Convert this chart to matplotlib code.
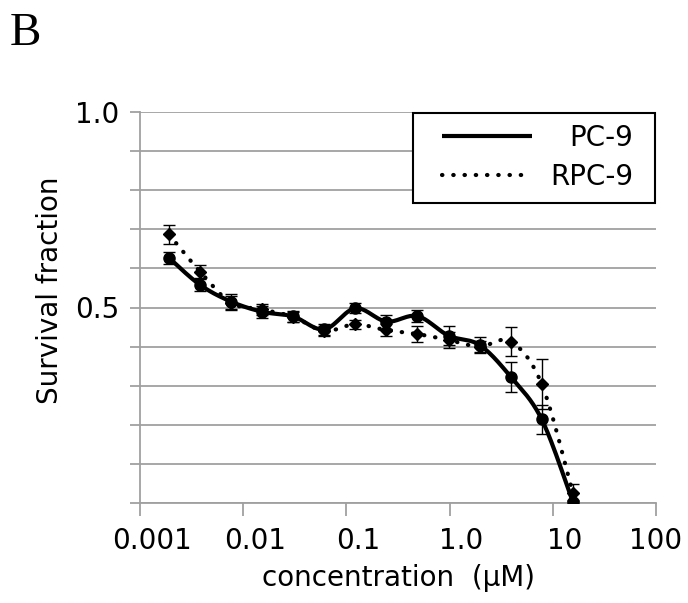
import numpy as np
import matplotlib
matplotlib.use("Agg")
import matplotlib.pyplot as plt
from matplotlib.transforms import ScaledTranslation
from matplotlib.ticker import NullLocator
from matplotlib.patches import Rectangle

# ---------------- data ----------------
concentration = [0.00191, 0.00381, 0.00763, 0.0153, 0.0305, 0.061, 0.122,
                 0.244, 0.488, 0.977, 1.953, 3.906, 7.8125, 15.625]
pc9 = [0.627, 0.558, 0.515, 0.489, 0.477, 0.444, 0.498,
       0.464, 0.478, 0.428, 0.404, 0.323, 0.214, 0.003]
pc9_err = [0.016, 0.015, 0.020, 0.015, 0.013, 0.014, 0.013,
           0.018, 0.015, 0.025, 0.020, 0.038, 0.037, 0.005]
rpc9 = [0.687, 0.592, 0.512, 0.495, 0.476, 0.440, 0.457,
        0.442, 0.432, 0.417, 0.400, 0.413, 0.304, 0.026]
rpc9_err = [0.024, 0.017, 0.018, 0.015, 0.012, 0.012, 0.012,
            0.015, 0.020, 0.020, 0.015, 0.037, 0.064, 0.022]
series_labels = ["PC-9", "RPC-9"]

x_ticks = [0.001, 0.01, 0.1, 1.0, 10, 100]
x_tick_labels = ["0.001", "0.01", "0.1", "1.0", "10", "100"]
y_ticks = [0.0, 0.1, 0.2, 0.3, 0.4, 0.5, 0.6, 0.7, 0.8, 0.9, 1.0]
y_tick_labels = ["", "", "", "", "", "0.5", "", "", "", "", "1.0"]

# ---------------- figure ----------------
plt.rcParams["font.family"] = ["DejaVu Sans"]
FW, FH, DPI = 688, 603, 100
fig = plt.figure(figsize=(FW / DPI, FH / DPI), dpi=DPI)
AX_L, AX_R, AX_T, AX_B = 140, 656, 112, 503
AW, AH = AX_R - AX_L, AX_B - AX_T
ax = fig.add_axes([AX_L / FW, 1 - AX_B / FH, AW / FW, AH / FH])
ax.set_xscale("log")
ax.set_xlim(0.001, 100)
ax.set_ylim(0, 1.0)

px_per_decade = AW / 5.0
px_per_unit = AH / 1.0


def smooth(xs, ys, n=30):
    """Excel-like smoothed line (Catmull-Rom Bezier) in display-proportional space."""
    u = np.log10(np.asarray(xs, float)) * px_per_decade
    v = np.asarray(ys, float) * px_per_unit
    P = np.column_stack([u, v])
    Pp = np.vstack([P[0], P, P[-1]])
    out = [P[0]]
    t = np.linspace(0, 1, n)[1:, None]
    for i in range(len(P) - 1):
        p0, p1, p2, p3 = Pp[i], Pp[i + 1], Pp[i + 2], Pp[i + 3]
        c1 = p1 + (p2 - p0) / 6.0
        c2 = p2 - (p3 - p1) / 6.0
        seg = ((1 - t) ** 3) * p1 + 3 * ((1 - t) ** 2) * t * c1 + 3 * (1 - t) * t ** 2 * c2 + t ** 3 * p2
        out.extend(seg)
    out = np.array(out)
    return 10 ** (out[:, 0] / px_per_decade), out[:, 1] / px_per_unit


gray = "#a0a0a0"
ax.yaxis.grid(True, color=gray, lw=1.3)
ax.set_axisbelow(True)
for s in ("top", "right"):
    ax.spines[s].set_visible(False)
for s in ("left", "bottom"):
    ax.spines[s].set_color(gray)
    ax.spines[s].set_linewidth(1.3)

# error bars
ax.errorbar(concentration, pc9, yerr=pc9_err, fmt="none", ecolor="black",
            elinewidth=1.0, capsize=4, capthick=1.0, zorder=3)
ax.errorbar(concentration, rpc9, yerr=rpc9_err, fmt="none", ecolor="black",
            elinewidth=1.0, capsize=4, capthick=1.0, zorder=3)

# smoothed lines
sx, sy = smooth(concentration, pc9)
l_pc, = ax.plot(sx, sy, color="black", lw=3.0, solid_capstyle="butt", zorder=4)
sx2, sy2 = smooth(concentration, rpc9)
l_rpc, = ax.plot(sx2, sy2, color="black", lw=3.0, linestyle=(0, (0.1, 2.6)),
                 dash_capstyle="round", zorder=4)

# markers
ax.plot(concentration, pc9, "o", ms=8, color="black", zorder=5)
ax.plot(concentration, rpc9, "D", ms=6.5, color="black", zorder=5)

# ticks
ax.set_xticks(x_ticks)
ax.set_xticklabels(x_tick_labels)
ax.xaxis.set_minor_locator(NullLocator())
ax.set_yticks(y_ticks)
ax.set_yticklabels(y_tick_labels)
ax.tick_params(axis="y", direction="out", length=7, width=1.3, color=gray,
               pad=8, labelsize=20)
ax.tick_params(axis="x", direction="out", length=9, width=1.3, color=gray,
               pad=8, labelsize=20)
for lab in ax.get_xticklabels()[:-1]:
    lab.set_transform(lab.get_transform() + ScaledTranslation(0.12, 0, fig.dpi_scale_trans))

ax.set_ylabel("Survival fraction", fontsize=20, va="center")
ax.yaxis.set_label_coords((50 - AX_L) / AW, (AX_B - 290) / AH)
ax.set_xlabel("concentration  (\u03bcM)", fontsize=20)
ax.xaxis.set_label_coords(0.5, (AX_B - 578) / AH)
ax.xaxis.label.set_va("center")

# legend: frame drawn as a box, entries placed inside it
frame = Rectangle(((413 - AX_L) / AW, (AX_B - 203) / AH), (655 - 413) / AW, 90 / AH,
                  transform=ax.transAxes, facecolor="white", edgecolor="black",
                  lw=1.5, zorder=6, clip_on=False)
ax.add_patch(frame)
leg = ax.legend([l_pc, l_rpc], series_labels, loc="upper left",
                bbox_to_anchor=((442 - AX_L) / AW, (AX_B - 124) / AH),
                borderaxespad=0, borderpad=0, handlelength=3.25, handletextpad=0.65,
                labelspacing=0.40, fontsize=20, frameon=False)
leg.set_zorder(7)
fig.canvas.draw()
renderer = fig.canvas.get_renderer()
widths = [t.get_window_extent(renderer).width for t in leg.get_texts()]
maxw = max(widths)
for t, w in zip(leg.get_texts(), widths):
    t.set_position((maxw - w, 0))

fig.text(10 / FW, 1 - 45 / FH, "B", fontfamily="Liberation Serif", fontsize=34, va="baseline")

fig.savefig("out.png", dpi=DPI)
